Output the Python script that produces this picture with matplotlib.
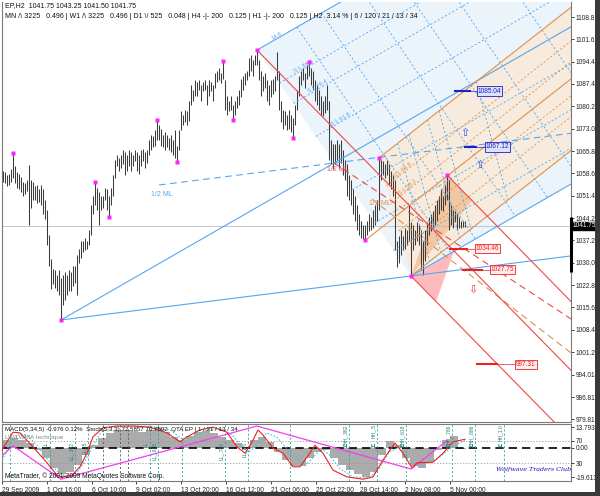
import matplotlib
matplotlib.use("Agg")
import matplotlib.pyplot as plt
import numpy as np
from matplotlib.patches import Polygon, Rectangle

plt.rcParams['font.family'] = ['Liberation Sans', 'DejaVu Sans']

# ------------------------------------------------------------------ data
symbol_line = "EP,H2  1041.75 1043.25 1041.50 1041.75"
info_line = ("MN /\\ 3225   0.496 | W1 /\\ 3225   0.496 | D1 \\/ 525   0.048 | "
             "H4 -|- 200   0.125 | H1 -|- 200   0.125 | H2  3.14 % | 6 / 120 / 21 / 13 / 34")
last_price = 1041.75
axis_range_hi = 1044.6
axis_range_lo = 1027.0

highs = [1059.5, 1059.0, 1058.0, 1058.5, 1060.0, 1065.2, 1061.0, 1059.0, 1058.5, 1057.5,
         1056.0, 1055.5, 1056.5, 1061.3, 1056.5, 1056.0, 1054.5, 1055.0, 1053.5, 1055.0,
         1053.5, 1050.0, 1047.0, 1039.0, 1031.0, 1028.0, 1027.5, 1026.0, 1027.5, 1025.0,
         1026.0, 1027.0, 1026.0, 1027.5, 1027.0, 1029.0, 1029.0, 1032.5, 1034.5, 1037.0,
         1037.0, 1038.0, 1037.0, 1040.5, 1048.5, 1051.5, 1055.9, 1054.0, 1052.5, 1051.5,
         1051.5, 1054.0, 1053.5, 1051.5, 1054.0, 1058.0, 1063.0, 1064.5, 1063.5, 1064.5,
         1066.0, 1065.5, 1064.5, 1066.0, 1065.5, 1064.5, 1066.0, 1065.5, 1064.5, 1066.0,
         1066.5, 1065.5, 1066.0, 1069.5, 1071.0, 1070.5, 1072.5, 1075.8, 1074.0, 1073.0,
         1071.0, 1072.0, 1071.0, 1070.0, 1071.0, 1069.5, 1072.5, 1067.5, 1072.5, 1078.5,
         1077.5, 1079.0, 1078.5, 1082.0, 1087.0, 1085.5, 1088.5, 1088.0, 1088.5, 1087.0,
         1088.0, 1088.5, 1087.0, 1088.5, 1088.0, 1087.0, 1091.0, 1091.5, 1092.5, 1091.0,
         1094.7, 1088.5, 1083.5, 1082.0, 1083.5, 1080.5, 1082.0, 1083.5, 1085.5, 1089.0,
         1090.0, 1091.0, 1091.5, 1095.5, 1096.5, 1095.0, 1096.5, 1098.2, 1095.0, 1091.5,
         1090.0, 1091.0, 1088.5, 1087.0, 1088.5, 1089.0, 1090.0, 1097.5, 1091.5, 1082.0,
         1079.0, 1078.5, 1077.5, 1079.0, 1077.5, 1076.5, 1080.5, 1085.5, 1090.0, 1091.5,
         1092.5, 1091.0, 1093.5, 1094.4, 1092.5, 1091.5, 1088.5, 1087.0, 1085.5, 1083.5,
         1082.0, 1083.5, 1087.0, 1082.0, 1069.5, 1068.0, 1068.0, 1069.5, 1068.0, 1069.5,
         1066.0, 1063.0, 1061.5, 1058.0, 1056.5, 1053.5, 1051.5, 1048.5, 1045.5, 1043.5,
         1042.0, 1042.0, 1043.5, 1045.5, 1044.5, 1047.0, 1048.5, 1050.0, 1063.6, 1063.0,
         1062.5, 1061.5, 1063.0, 1061.5, 1059.5, 1058.0, 1056.5, 1037.0, 1038.5, 1040.5,
         1038.5, 1041.0, 1040.5, 1048.5, 1043.0, 1042.0, 1040.5, 1043.0, 1042.0, 1040.5,
         1037.0, 1040.5, 1043.0, 1044.5, 1045.5, 1046.5, 1048.5, 1050.0, 1051.5, 1053.5,
         1051.5, 1055.0, 1058.1, 1056.5, 1048.5, 1047.0, 1046.5, 1045.5, 1044.5, 1043.5,
         1043.5, 1043.25]
lows = [1056.0, 1055.5, 1054.5, 1055.0, 1056.0, 1057.0, 1055.5, 1054.0, 1053.5, 1052.5,
        1051.5, 1052.0, 1053.0, 1042.0, 1047.5, 1050.0, 1050.0, 1049.0, 1049.5, 1048.5,
        1045.5, 1044.0, 1035.5, 1029.0, 1021.5, 1023.0, 1022.0, 1021.0, 1019.5, 1011.6,
        1016.5, 1018.0, 1019.5, 1021.0, 1021.0, 1022.5, 1023.5, 1019.5, 1030.0, 1031.5,
        1033.5, 1034.0, 1034.5, 1035.5, 1039.0, 1045.5, 1048.5, 1047.0, 1042.0, 1047.0,
        1047.5, 1050.0, 1047.0, 1044.6, 1048.5, 1051.5, 1057.0, 1061.0, 1059.5, 1060.5,
        1061.5, 1058.0, 1059.5, 1061.0, 1059.5, 1061.0, 1062.5, 1059.5, 1058.5, 1061.0,
        1062.5, 1060.5, 1062.0, 1064.5, 1066.0, 1067.0, 1067.5, 1069.5, 1069.5, 1067.5,
        1067.0, 1066.0, 1067.0, 1066.0, 1065.5, 1064.5, 1063.5, 1062.3, 1066.0, 1072.5,
        1074.0, 1075.0, 1074.0, 1075.5, 1080.5, 1082.0, 1083.5, 1083.5, 1085.5, 1082.0,
        1085.0, 1085.5, 1080.5, 1083.5, 1085.0, 1082.0, 1086.0, 1088.0, 1088.5, 1087.5,
        1089.0, 1079.0, 1077.5, 1078.5, 1079.0, 1075.8, 1077.5, 1079.5, 1080.5, 1083.0,
        1085.5, 1087.0, 1088.5, 1090.0, 1091.5, 1090.0, 1093.5, 1093.5, 1088.5, 1083.5,
        1085.0, 1086.0, 1082.0, 1080.5, 1083.0, 1084.0, 1085.0, 1088.5, 1079.0, 1075.0,
        1073.0, 1074.0, 1072.5, 1073.0, 1072.0, 1070.0, 1074.0, 1079.0, 1083.5, 1087.0,
        1088.5, 1086.0, 1089.0, 1090.0, 1087.0, 1085.5, 1082.0, 1080.5, 1079.0, 1077.5,
        1077.0, 1078.0, 1079.0, 1063.0, 1061.5, 1060.0, 1061.5, 1063.0, 1060.5, 1062.0,
        1058.0, 1056.5, 1051.5, 1050.0, 1048.5, 1045.5, 1043.5, 1040.5, 1039.0, 1038.0,
        1037.5, 1037.1, 1039.0, 1040.0, 1040.5, 1041.0, 1042.0, 1043.5, 1047.0, 1056.5,
        1058.0, 1057.0, 1058.0, 1055.0, 1053.5, 1051.5, 1034.0, 1028.5, 1030.0, 1032.5,
        1034.0, 1034.5, 1035.5, 1037.0, 1025.7, 1034.0, 1035.5, 1037.0, 1035.5, 1027.5,
        1026.0, 1030.5, 1035.5, 1039.0, 1040.0, 1041.0, 1042.0, 1043.5, 1045.5, 1047.0,
        1046.5, 1048.5, 1050.0, 1040.5, 1042.0, 1041.0, 1043.0, 1040.5, 1041.0, 1041.0,
        1041.5, 1041.5]

price_ticks = [1108.81, 1101.61, 1094.41, 1087.41, 1080.21, 1073.01, 1065.81, 1058.61,
               1051.41, 1044.21, 1037.21, 1030.01, 1022.81, 1015.61, 1008.41, 1001.21,
               994.01, 986.81, 979.81]

time_label_idx = [-0.5, 21.9, 44.3, 66.7, 89.1, 111.5, 133.9, 156.3, 178.7, 201.1, 223.5]
time_labels = ["29 Sep 2009", "1 Oct 16:00", "6 Oct 10:00", "9 Oct 02:00", "13 Oct 20:00",
               "16 Oct 12:00", "21 Oct 06:00", "25 Oct 22:00", "28 Oct 14:00",
               "2 Nov 08:00", "5 Nov 00:00"]

# zigzag pivots (bar index, H/L)
pivot_idx = [5, 29, 46, 53, 77, 87, 110, 115, 127, 145, 153, 181, 188, 204, 222]
pivot_type = ['H', 'L', 'H', 'L', 'H', 'L', 'H', 'L', 'H', 'L', 'H', 'L', 'H', 'L', 'H']

# pitchforks as (A, B, C) pivot numbers
fork_blue = (1, 8, 13)
fork_orange = (11, 12, 13)
fork_red = (8, 13, 14)

# price targets
target_prices = [1085.04, 1067.12, 1034.46, 1027.75, 997.31]
target_kind = ['up', 'up', 'dn', 'dn', 'dn']
target_x0 = [226, 231, 223.5, 230, 237]
target_x1 = [233.5, 236.5, 232, 239.5, 247]
target_box = [237, 241, 236, 243.5, 256]

arrow_idx = [231, 238.5, 235]
arrow_price = [1071.6, 1061.3, 1021.2]
arrow_dir = ['up', 'up', 'dn']

# MACD histogram (one value per 4 bars)
macd_hist = [5.2, 6.5, 5.2, 3.2, -1.5, -6.8, -13.4, -17.4, -16.1, -11.4,
             -4.8, 1.9, 6.5, 9.8, 11.8, 11.8, 11.2, 10.5, 11.8, 13.1,
             10.5, 7.2, 5.2, 7.8, 10.5, 11.2, 9.8, 7.2, 5.2, 3.2,
             0.5, 5.2, 7.2, 3.9, -2.8, -8.1, -12.1, -12.1, -6.8, -2.8,
             -1.5, -6.8, -11.4, -14.7, -17.4, -19.4, -16.1, -4.8, 4.5, 1.9,
             -6.8, -12.1, -13.4, -9.4, -1.5, 5.2, 7.8, -0.976]

stoch_idx = [-1.5, 5, 8.5, 15, 22, 27, 29.5, 34.5, 38.5, 42, 45, 50, 57, 65, 73.5, 82,
             88.5, 92, 98.5, 105, 112, 117, 121, 125, 127.5, 130, 135, 140, 145, 148.5,
             152, 156, 160, 165, 172, 180, 185, 190, 196, 200, 204.5, 207, 215, 220, 225, 231]
stoch_main = [48, 85, 84, 59, 31, 9, 6, 9, 24, 48, 77, 93, 96, 96, 94, 84, 68, 77, 89, 94,
              85, 59, 48, 71, 89, 80, 57, 48, 24, 24, 41, 62, 48, 18, 6, 2, 6, 36, 66, 48,
              22, 31, 32, 48, 68, 72.6]
signal_idx = [-1, 3, 8, 12, 17, 22, 27, 32, 37, 41, 45, 49, 55, 65, 75, 84, 90, 95, 101, 108,
              114, 119, 123, 128, 132, 137, 142, 147, 151, 155, 159, 163, 168, 175, 183, 188,
              193, 198, 203, 207, 212, 218, 224, 231]
signal_vals = [30, 62, 82, 80, 62, 38, 16, 6, 14, 34, 62, 85, 94, 96, 95, 88, 72, 76, 88, 92,
               82, 62, 50, 66, 84, 76, 56, 40, 26, 40, 56, 46, 22, 6, 4, 20, 50, 58, 36, 26,
               30, 40, 58, 70.8]
osc_zz_idx = [-1.5, 5, 29, 127, 204, 222]
osc_zz_val = [40, 61, 2, 96, 20, 70]

time_lines = [3.5, 23.5, 36, 42.5, 73.5, 77.5, 89.5, 111, 122.5, 143.5, 173, 187, 201.5, 224.5, 236, 250.5]
time_dark = [50, 58.5, 62.5]
ll_idx = [23.5, 36, 42.5, 73.5, 77.5, 111, 122.5]
ll_txt = ["LL", "LL_.382", "LL_.5", "LL", "LL_.618", "LL_.786", "LL_1.0"]
hh_idx = [173, 187, 201.5, 224.5, 236, 250.5]
hh_txt = ["HH_.382", "HH_.5", "HH_.618", "HH_.786", "HH_.886", "HH_1.0"]

# ------------------------------------------------------------------ layout helpers
W, H = 600, 496
def fx(p): return p / W
def fy(p): return 1 - p / H

BLUE = '#56A6F0'
BLUE_FILL = '#EBF3FB'
ORANGE = '#E0904A'
BEIGE = '#F6EBDC'
RED = '#F04848'
TEAL = '#2AA0A0'
BAR = '#3C3C3C'
DASH = (0, (2.5, 2.5))

fig = plt.figure(figsize=(6.0, 4.96), dpi=100)
fig.patch.set_facecolor('white')

ax = fig.add_axes([fx(2), fy(422), fx(571) - fx(2), fy(2) - fy(422)])
ax.set_xlim(-0.5, 284)
ax.set_ylim(978.85, 1113.63)
ax.set_facecolor('white')
ax.spines['top'].set_visible(False)
for s in ['left', 'right', 'bottom']:
    ax.spines[s].set_color('#7a7a7a')
    ax.spines[s].set_linewidth(0.8)
ax.set_xticks([])
ax.yaxis.tick_right()
ax.set_yticks(price_ticks)
ax.set_yticklabels([f"{v:.2f}" for v in price_ticks])
ax.tick_params(axis='y', length=2, width=0.6, pad=1.2, labelsize=4.7, colors='#222222')

idx = np.arange(len(highs))
hi = np.array(highs)
lo = np.array(lows)


def piv(k):
    i = pivot_idx[k]
    return np.array([float(i), hi[i] if pivot_type[k] == 'H' else lo[i]])


def ray(p, d, x_end=330.0):
    t = (x_end - p[0]) / d[0]
    return [p[0], p[0] + t * d[0]], [p[1], p[1] + t * d[1]]


def far(p, d, x_end=330.0):
    t = (x_end - p[0]) / d[0]
    return p + t * d


def disp_angle(d):
    p0 = ax.transData.transform((0, 1040))
    p1 = ax.transData.transform((d[0], 1040 + d[1]))
    return np.degrees(np.arctan2(p1[1] - p0[1], p1[0] - p0[0]))


def fork(nums):
    A, B, C = (piv(n) for n in nums)
    M = (B + C) / 2
    return A, B, C, M, M - A

# ---------------- fills
A, B, C, M, d = fork(fork_blue)
ax.add_patch(Polygon([B, far(B, d), far(C, d), C], closed=True, fc=BLUE_FILL, ec='none', zorder=0.5))
A2, B2, C2, M2, d2 = fork(fork_orange)
ax.add_patch(Polygon([B2, far(B2, d2), far(C2, d2), C2], closed=True, fc=BEIGE, ec='none', zorder=0.6))
A3, B3, C3, M3, d3 = fork(fork_red)
s_tri = 0.146
ax.add_patch(Polygon([B3, C3, C3 + s_tri * d3], closed=True, fc='#F2C298', ec='none', alpha=0.85, zorder=0.7))
ax.add_patch(Polygon([B3, B3 + s_tri * d3, M3 + s_tri * d3], closed=True, fc='#FFB4B4', ec='none', alpha=0.9, zorder=0.7))

# ---------------- blue pitchfork
for p, dd in [(A, d), (B, d), (C, d), (A, C - A)]:
    xs, ys = ray(p, dd)
    ax.plot(xs, ys, color=BLUE, lw=0.8, zorder=3)
xs, ys = ray((A + B) / 2, C - A)
ax.plot(xs, ys, color=BLUE, lw=0.8, ls=(0, (6, 4)), zorder=3)
ax.annotate("1/2 ML", (A + B) / 2, xytext=(-6, -8), textcoords='offset points',
            color=BLUE, fontsize=5, zorder=4)
for f in [0.146, 0.236, 0.382, 0.618, 0.764, 0.886]:
    s0 = B + f * (C - B)
    xs, ys = ray(s0, d)
    ax.plot(xs, ys, color=BLUE, lw=0.6, ls=DASH, zorder=2.5)
for k in [1.146, 1.236, 1.382, 1.5, 1.618, 1.786]:
    c0 = A + k * d
    p0 = c0 - 0.5 * (C - B)
    p1 = c0 + 0.5 * (C - B)
    ax.plot([p0[0], p1[0]], [p0[1], p1[1]], color=BLUE, lw=0.6, ls=DASH, zorder=2.5)
ang = disp_angle(d)
for f, lab in zip([0.0, 0.146, 0.236, 0.382], ["14.6", "S L 88.6", "S L 76.4", "S L 61.8"]):
    s0 = B + f * (C - B) + 0.06 * d
    ax.text(s0[0], s0[1], lab, color=BLUE, fontsize=4.2, rotation=ang,
            rotation_mode='anchor', ha='left', va='bottom', zorder=4)

# ---------------- orange pitchfork
for p in [A2, B2, C2]:
    xs, ys = ray(p, d2)
    ax.plot(xs, ys, color=ORANGE, lw=0.8, zorder=3)
for f in [0.236, 0.382, 0.618, 0.764]:
    s0 = B2 + f * (C2 - B2)
    xs, ys = ray(s0, d2)
    ax.plot(xs, ys, color=ORANGE, lw=0.6, ls=DASH, zorder=2.5)
for k in [1.618, 2.0, 2.618, 3.0, 4.236]:
    c0 = A2 + k * d2
    p0 = c0 - 0.5 * (C2 - B2)
    p1 = c0 + 0.5 * (C2 - B2)
    ax.plot([p0[0], p1[0]], [p0[1], p1[1]], color=BLUE, lw=0.6, ls=DASH, zorder=2.5)
xs, ys = ray((A2 + B2) / 2, C2 - A2)
ax.plot(xs, ys, color=ORANGE, lw=0.8, ls=(0, (6, 4)), zorder=3)
ax.annotate("1/2 ML", (A2 + B2) / 2, xytext=(-2, -4), textcoords='offset points',
            color=ORANGE, fontsize=5, zorder=4)
ang2 = disp_angle(d2)
for f, lab in zip([0.236, 0.382], ["S L 61.8", "S L 38.2"]):
    s0 = B2 + f * (C2 - B2) + 0.3 * d2
    ax.text(s0[0], s0[1], lab, color=ORANGE, fontsize=4.2, rotation=ang2,
            rotation_mode='anchor', ha='left', va='bottom', zorder=4)

# ---------------- red pitchfork
for p in [A3, B3, C3]:
    xs, ys = ray(p, d3)
    ax.plot(xs, ys, color=RED, lw=0.8, zorder=3)
xs, ys = ray((A3 + B3) / 2, C3 - A3)
ax.plot(xs, ys, color=RED, lw=0.8, ls=(0, (6, 4)), zorder=3)
ax.annotate("1/2 ML", (A3 + B3) / 2, xytext=(-5, -6), textcoords='offset points',
            color=RED, fontsize=5, zorder=4)

# current price line
ax.axhline(last_price, color='#BDBDBD', lw=0.6, zorder=1.5)

# OHLC bars
ax.vlines(idx, lo, hi, color=BAR, lw=0.75, zorder=2)

# pivots
for k in range(len(pivot_idx)):
    p = piv(k)
    ax.plot(p[0], p[1], 's', ms=2.2, color='#FF22FF', mec='none', zorder=4)

# targets
for val, kind, x0, x1, xb in zip(target_prices, target_kind, target_x0, target_x1, target_box):
    col = '#2020C0' if kind == 'up' else '#F02020'
    fc = '#DCE2FA' if kind == 'up' else '#FFECEC'
    ax.plot([x0, x1], [val, val], color=col, lw=1.5, zorder=4)
    ax.plot([x1, xb], [val, val], color=col, lw=0.5, zorder=4)
    ax.text(xb + 0.4, val, f"{val:.2f}", color=col, fontsize=4.7, va='center', ha='left', zorder=5,
            bbox=dict(boxstyle='square,pad=0.18', fc=fc, ec=col, lw=0.6))

for xi, pv, dr in zip(arrow_idx, arrow_price, arrow_dir):
    ax.text(xi, pv, '\u21e7' if dr == 'up' else '\u21e9', color='#3050F0' if dr == 'up' else '#F03030',
            fontsize=8, ha='center', va='center', family='DejaVu Sans', zorder=5)

# range bar on the price axis and price box
ax.plot([1.0, 1.0], [axis_range_lo, axis_range_hi], transform=ax.get_yaxis_transform(),
        color='black', lw=2.2, solid_capstyle='butt', clip_on=False, zorder=6)
ax.text(1.003, last_price, f"{last_price:.2f}", transform=ax.get_yaxis_transform(),
        color='white', fontsize=4.7, va='center', ha='left', zorder=7, clip_on=False,
        bbox=dict(boxstyle='square,pad=0.12', fc='black', ec='black'))

# header texts
fig.text(fx(5), fy(6), symbol_line, fontsize=5.0, va='center', ha='left', color='#111111')
fig.text(fx(5), fy(16), info_line, fontsize=5.0, va='center', ha='left', color='#111111')

# ------------------------------------------------------------------ oscillator panel
ax2 = fig.add_axes([fx(2), fy(481), fx(571) - fx(2), fy(423.5) - fy(481)])
ax2.set_xlim(-0.5, 284)
ax2.set_ylim(-22.07, 16.12)
for s in ['top', 'left', 'right', 'bottom']:
    ax2.spines[s].set_color('#7a7a7a')
    ax2.spines[s].set_linewidth(0.8)
hist_x = np.arange(len(macd_hist)) * 4 + 1.5
ax2.bar(hist_x, macd_hist, width=4.0, color='#ABABAB', zorder=1)
ax2.axhline(0, color='black', lw=1.2, ls=(0, (5, 3)), zorder=2)
ax2.set_xticks(time_label_idx)
ax2.set_xticklabels(time_labels, ha='left')
ax2.tick_params(axis='x', length=2.5, width=0.6, pad=1.5, labelsize=4.8, colors='#222222')

ax3 = ax2.twinx()
ax3.set_ylim(-1.2, 100.5)
ax3.set_xlim(-0.5, 284)
for s in ['top', 'left', 'right', 'bottom']:
    ax3.spines[s].set_visible(False)
ax3.set_yticks([70, 30])
ax3.set_yticklabels(["70", "30"])
ax3.tick_params(axis='y', length=2, width=0.6, pad=1.2, labelsize=4.7, colors='#222222')

# MACD scale labels on the right as well (after twinx, which moves them left)
ax2.yaxis.tick_right()
ax2.set_yticks([13.793, 0.0, -19.613])
ax2.set_yticklabels(["13.793", "0.00", "-19.613"])
ax2.tick_params(axis='y', left=False, labelleft=False, right=True, labelright=True,
                length=2, width=0.6, pad=1.2, labelsize=4.7, colors='#222222')

ax3.axhline(70, color='#9a9a9a', lw=0.6, ls=(0, (1.5, 2)), zorder=1)
ax3.axhline(30, color='#9a9a9a', lw=0.6, ls=(0, (1.5, 2)), zorder=1)
for t in time_lines:
    ax3.axvline(t, color=TEAL, lw=0.6, ls=DASH, zorder=1.5)
for t in time_dark:
    ax3.axvline(t, color='#555555', lw=0.6, ls=DASH, zorder=1.5)
ax3.plot(signal_idx, signal_vals, color='#40C8D8', lw=0.8, ls=(0, (1.5, 1.5)), zorder=3)
ax3.plot(stoch_idx, stoch_main, color='#F02020', lw=0.8, zorder=4)
ax3.plot(osc_zz_idx, osc_zz_val, color='#F040F0', lw=0.9, zorder=3.5)
for t, s in zip(ll_idx, ll_txt):
    ax3.text(t - 0.6, 68, s, rotation=90, color='#208080', fontsize=3.6, ha='right', va='top', zorder=5)
for t, s in zip(hh_idx, hh_txt):
    ax3.text(t - 0.6, 99, s, rotation=90, color='#208080', fontsize=3.6, ha='right', va='top', zorder=5)
    ax3.text(t - 2.2, 60, "H", color='#208080', fontsize=4.4, fontweight='bold', ha='center', va='center', zorder=5)

fig.text(fx(5), fy(430), "MACD(5,34,5) -0.976 0.12%  Stoch(5,3,3) 72.5857 70.7592  QTA EP | 1 / 21 / 13 / 34",
         fontsize=4.4, va='center', ha='left', color='#111111')
fig.text(fx(5), fy(438), "LW/LWMA technique", fontsize=4.6, va='center', ha='left', color='#8a8a8a')
fig.text(fx(5), fy(476), "MetaTrader, \u00a9 2001-2009 MetaQuotes Software Corp.", fontsize=4.8,
         va='center', ha='left', color='#111111')
fig.text(fx(496), fy(469), "Wolfwave Traders Club", fontsize=4.6, va='center', ha='left',
         color='#1010C0', family='DejaVu Serif', style='italic')

# window frame
fig.add_artist(Rectangle((fx(595), 0), 1 - fx(595), 1, transform=fig.transFigure, fc='#3a3a3a', ec='none'))
fig.add_artist(Rectangle((0, 0), 1, fy(492), transform=fig.transFigure, fc='#3a3a3a', ec='none'))

fig.savefig("out.png", dpi=100)
